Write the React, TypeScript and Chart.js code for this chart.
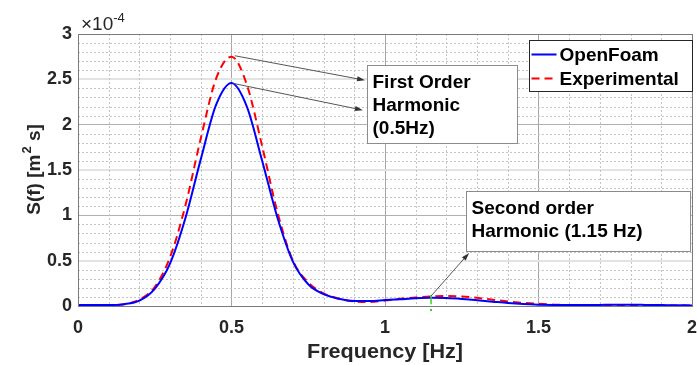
import React, { useEffect, useRef } from 'react';
import { Chart, registerables } from 'chart.js';

Chart.register(...registerables);

// ---- Data (spectral density in units of 1e-4 m^2 s) ----
const freq = [0, 0.05, 0.1, 0.15, 0.2, 0.25, 0.3, 0.35, 0.4, 0.45, 0.5, 0.55, 0.6, 0.65, 0.7, 0.75, 0.8, 0.85, 0.9, 0.95, 1.0,
  1.05, 1.1, 1.15, 1.2, 1.25, 1.3, 1.35, 1.4, 1.45, 1.5, 1.55, 1.6, 1.65, 1.7, 1.75, 1.8, 1.85, 1.9, 1.95, 2.0];
const openFoam = [0.01, 0.01, 0.01, 0.02, 0.06, 0.19, 0.47, 0.97, 1.62, 2.22, 2.46, 2.20, 1.60, 0.97, 0.49, 0.24, 0.13, 0.08, 0.055, 0.055, 0.065,
  0.075, 0.085, 0.09, 0.088, 0.078, 0.063, 0.048, 0.033, 0.022, 0.015, 0.011, 0.01, 0.01, 0.012, 0.014, 0.014, 0.012, 0.01, 0.008, 0.006];
const experimental = [0.01, 0.01, 0.01, 0.02, 0.07, 0.21, 0.54, 1.11, 1.85, 2.51, 2.75, 2.44, 1.76, 1.03, 0.50, 0.26, 0.14, 0.08, 0.05, 0.045, 0.06,
  0.08, 0.095, 0.105, 0.11, 0.105, 0.09, 0.07, 0.05, 0.035, 0.025, 0.015, 0.01, 0.008, 0.007, 0.006, 0.006, 0.005, 0.005, 0.005, 0.005];

const xTickLabels = ['0', '0.5', '1', '1.5', '2'];
const yTickLabels = ['0', '0.5', '1', '1.5', '2', '2.5', '3'];
const yExponent = '-4';
const xTitle = 'Frequency [Hz]';
const yTitleParts = ['S(f) [m', '2', ' s]'];
const seriesNames = ['OpenFoam', 'Experimental'];
const note1Lines = ['First Order', 'Harmonic', '(0.5Hz)'];
const note2Lines = ['Second order', 'Harmonic (1.15 Hz)'];
// annotation anchors in data units (x: Hz, y: 1e-4 m^2 s)
const note1Box = { x0: 0.941, x1: 1.43, yTop: 2.658, yBottom: 1.8 };
const note2Box = { x0: 1.264, x1: 1.993, yTop: 1.268, yBottom: 0.607 };
const arrows = [
  { from: [0.511, 2.76], to: [0.935, 2.49] },
  { from: [0.506, 2.455], to: [0.928, 2.16] },
  { from: [1.15, 0.11], to: [1.274, 0.585] },
];
const secondHarmonicMark = [1.15, 0.11];

const FONT = '"Liberation Sans", Arial, sans-serif';
const TXT = '#262626';

function drawArrow(ctx: CanvasRenderingContext2D, x1: number, y1: number, x2: number, y2: number) {
  const ang = Math.atan2(y2 - y1, x2 - x1);
  const len = 8, hw = 2.5;
  ctx.save();
  ctx.strokeStyle = '#555';
  ctx.lineWidth = 1;
  ctx.beginPath();
  ctx.moveTo(x1, y1);
  ctx.lineTo(x2 - Math.cos(ang) * len * 0.6, y2 - Math.sin(ang) * len * 0.6);
  ctx.stroke();
  ctx.fillStyle = '#333';
  ctx.beginPath();
  ctx.moveTo(x2, y2);
  ctx.lineTo(x2 - Math.cos(ang) * len - Math.sin(ang) * hw, y2 - Math.sin(ang) * len + Math.cos(ang) * hw);
  ctx.lineTo(x2 - Math.cos(ang) * len + Math.sin(ang) * hw, y2 - Math.sin(ang) * len - Math.cos(ang) * hw);
  ctx.closePath();
  ctx.fill();
  ctx.restore();
}

const decorPlugin = {
  id: 'decor',
  beforeDatasetsDraw(chart: any) {
    const { ctx, chartArea: a, scales } = chart;
    const xs = scales.x, ys = scales.y;
    ctx.save();
    ctx.strokeStyle = '#c4c4c4';
    ctx.lineWidth = 1;
    ctx.setLineDash([2, 2]);
    for (let i = 1; i < 20; i++) {
      if (i % 5 === 0) continue;
      const px = Math.round(xs.getPixelForValue(i / 10)) + 0.5;
      ctx.beginPath(); ctx.moveTo(px, a.top); ctx.lineTo(px, a.bottom); ctx.stroke();
    }
    for (let i = 1; i < 30; i++) {
      if (i % 5 === 0) continue;
      const py = Math.round(ys.getPixelForValue(i / 10)) + 0.5;
      ctx.beginPath(); ctx.moveTo(a.left, py); ctx.lineTo(a.right, py); ctx.stroke();
    }
    ctx.restore();
  },
  afterDatasetsDraw(chart: any) {
    const { ctx, chartArea: a, scales } = chart;
    const xs = scales.x, ys = scales.y;
    const X = (v: number) => xs.getPixelForValue(v);
    const Y = (v: number) => ys.getPixelForValue(v);
    ctx.save();
    // axes box
    ctx.strokeStyle = '#7a7a7a';
    ctx.lineWidth = 1;
    ctx.strokeRect(Math.round(a.left) + 0.5, Math.round(a.top) + 0.5, Math.round(a.right - a.left), Math.round(a.bottom - a.top));

    // green marker at second harmonic
    ctx.strokeStyle = '#3bcc2e';
    ctx.lineWidth = 1.5;
    ctx.beginPath();
    ctx.moveTo(X(secondHarmonicMark[0]), Y(secondHarmonicMark[1]) - 1);
    ctx.lineTo(X(secondHarmonicMark[0]), Y(0.02));
    ctx.stroke();
    ctx.fillStyle = '#3bcc2e';
    ctx.fillRect(X(secondHarmonicMark[0]) - 1, a.bottom + 3, 2, 2);

    // arrows
    arrows.forEach((ar) => drawArrow(ctx, X(ar.from[0]), Y(ar.from[1]), X(ar.to[0]), Y(ar.to[1])));

    // annotation boxes
    const drawNote = (box: any, lines: string[], lineGap: number) => {
      const x0 = Math.round(X(box.x0)) + 0.5, x1 = Math.round(X(box.x1)) + 0.5;
      const y0 = Math.round(Y(box.yTop)) + 0.5, y1 = Math.round(Y(box.yBottom)) + 0.5;
      ctx.fillStyle = '#fff';
      ctx.fillRect(x0, y0, x1 - x0, y1 - y0);
      ctx.strokeStyle = '#8c8c8c';
      ctx.lineWidth = 1;
      ctx.strokeRect(x0, y0, x1 - x0, y1 - y0);
      ctx.fillStyle = '#000';
      ctx.font = `bold 19px ${FONT}`;
      ctx.textAlign = 'left';
      ctx.textBaseline = 'alphabetic';
      lines.forEach((t, i) => ctx.fillText(t, x0 + 5, y0 + 22 + i * lineGap));
    };
    drawNote(note1Box, note1Lines, 23);
    drawNote(note2Box, note2Lines, 23);

    // legend
    const lw = 163, lh = 51;
    const lx = Math.round(a.right) - lw + 0.5, ly = Math.round(a.top) + 6.5;
    ctx.fillStyle = '#fff';
    ctx.fillRect(lx, ly, lw, lh);
    ctx.strokeStyle = '#262626';
    ctx.lineWidth = 1;
    ctx.strokeRect(lx, ly, lw, lh);
    const rows = [ly + 14, ly + 38];
    ctx.lineWidth = 2;
    ctx.strokeStyle = '#0000ff';
    ctx.beginPath(); ctx.moveTo(lx + 2, rows[0]); ctx.lineTo(lx + 27, rows[0]); ctx.stroke();
    ctx.strokeStyle = '#ff0000';
    ctx.setLineDash([8, 5]);
    ctx.beginPath(); ctx.moveTo(lx + 2, rows[1]); ctx.lineTo(lx + 27, rows[1]); ctx.stroke();
    ctx.setLineDash([]);
    ctx.fillStyle = '#000';
    ctx.font = `bold 19px ${FONT}`;
    ctx.textBaseline = 'middle';
    ctx.textAlign = 'left';
    seriesNames.forEach((n, i) => ctx.fillText(n, lx + 30, rows[i] + 1));

    // exponent label
    ctx.fillStyle = TXT;
    ctx.textBaseline = 'alphabetic';
    ctx.font = `19px ${FONT}`;
    const ex = a.left + 3;
    const eb = a.top - 4;
    ctx.fillText('\u00d710', ex, eb);
    const w10 = ctx.measureText('\u00d710').width;
    ctx.font = `13px ${FONT}`;
    ctx.fillText(yExponent, ex + w10, eb - 8);

    // y title (rotated, with superscript)
    ctx.save();
    ctx.translate(40, (a.top + a.bottom) / 2);
    ctx.rotate(-Math.PI / 2);
    ctx.font = `bold 19px ${FONT}`;
    const w1 = ctx.measureText(yTitleParts[0]).width;
    ctx.font = `bold 13px ${FONT}`;
    const w2 = ctx.measureText(yTitleParts[1]).width;
    ctx.font = `bold 19px ${FONT}`;
    const w3 = ctx.measureText(yTitleParts[2]).width;
    let sx = -(w1 + w2 + w3) / 2;
    ctx.textAlign = 'left';
    ctx.fillText(yTitleParts[0], sx, 0);
    sx += w1;
    ctx.font = `bold 13px ${FONT}`;
    ctx.fillText(yTitleParts[1], sx + 1, -9);
    sx += w2 + 1;
    ctx.font = `bold 19px ${FONT}`;
    ctx.fillText(yTitleParts[2], sx, 0);
    ctx.restore();

    // x title (slightly widened like the reference)
    ctx.save();
    ctx.translate((a.left + a.right) / 2, 358);
    ctx.scale(1.08, 1);
    ctx.font = `bold 20px ${FONT}`;
    ctx.textAlign = 'center';
    ctx.textBaseline = 'alphabetic';
    ctx.fillStyle = TXT;
    ctx.fillText(xTitle, 0, 0);
    ctx.restore();
    ctx.restore();
  },
};

export default function App() {
  const ref = useRef<HTMLCanvasElement | null>(null);
  useEffect(() => {
    if (!ref.current) return;
    const chart = new Chart(ref.current, {
      type: 'line',
      data: {
        datasets: [
          {
            label: seriesNames[0],
            data: freq.map((f, i) => ({ x: f, y: openFoam[i] })),
            borderColor: '#0000ff',
            borderWidth: 2,
            pointRadius: 0,
            cubicInterpolationMode: 'monotone',
            fill: false,
          },
          {
            label: seriesNames[1],
            data: freq.map((f, i) => ({ x: f, y: experimental[i] })),
            borderColor: '#ff0000',
            borderWidth: 2,
            borderDash: [8, 5],
            pointRadius: 0,
            cubicInterpolationMode: 'monotone',
            fill: false,
          },
        ],
      },
      options: {
        responsive: false,
        animation: false,
        layout: { padding: { top: 34, right: 5, left: 0, bottom: 0 } },
        plugins: { legend: { display: false }, tooltip: { enabled: false } },
        scales: {
          x: {
            type: 'linear',
            min: 0,
            max: 2,
            afterFit: (s: any) => { s.height = 59; s.paddingLeft = 0; s.paddingRight = 0; },
            border: { display: false },
            grid: {
              drawTicks: false,
              color: '#a6a6a6',
              lineWidth: 1,
            },
            ticks: {
              stepSize: 0.5,
              padding: 11,
              maxRotation: 0,
              autoSkip: false,
              color: TXT,
              font: { family: FONT, size: 18, weight: 'bold' },
              callback: (v: any) => xTickLabels[Math.round(Number(v) * 2)] ?? '',
            },
          },
          y: {
            type: 'linear',
            min: 0,
            max: 3,
            afterFit: (s: any) => { s.width = 78; s.paddingTop = 0; s.paddingBottom = 0; },
            border: { display: false },
            grid: {
              drawTicks: false,
              color: (c: any) => {
                const v = Math.round((c.tick?.value ?? 0) * 2);
                return v % 2 === 1 ? '#e3e3e3' : '#b0b0b0';
              },
              lineWidth: (c: any) => {
                const v = Math.round((c.tick?.value ?? 0) * 2);
                return v % 2 === 1 ? 2 : 1;
              },
            },
            ticks: {
              stepSize: 0.5,
              padding: 6,
              autoSkip: false,
              color: TXT,
              font: { family: FONT, size: 18, weight: 'bold' },
              callback: (v: any) => yTickLabels[Math.round(Number(v) * 2)] ?? '',
            },
          },
        },
      },
      plugins: [decorPlugin],
    } as any);
    return () => chart.destroy();
  }, []);
  return (
    <div style={{ position: 'absolute', left: 0, top: 0, width: 697, height: 365, background: '#fff' }}>
      <canvas ref={ref} width={697} height={365} style={{ width: 697, height: 365, display: 'block' }} />
    </div>
  );
}
